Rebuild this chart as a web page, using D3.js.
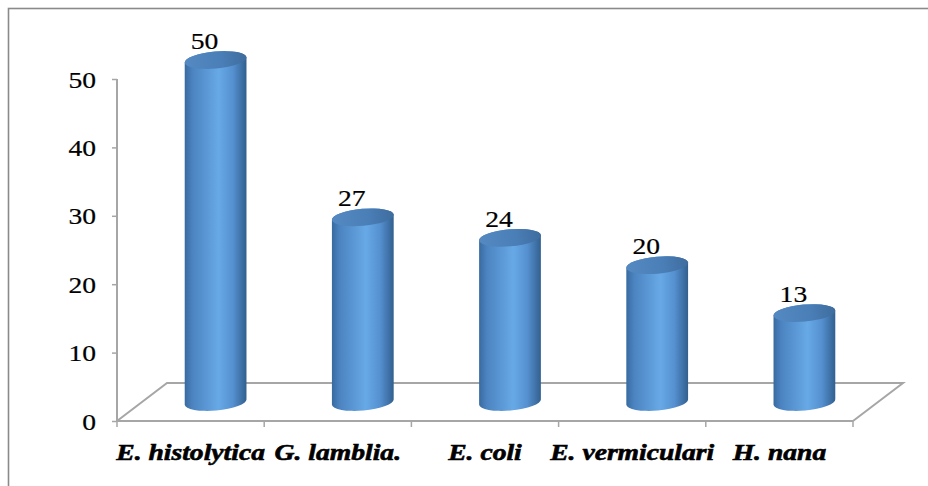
<!DOCTYPE html>
<html>
<head>
<meta charset="utf-8">
<script src="https://cdn.jsdelivr.net/npm/d3@7"></script>
<style>
  html, body { margin: 0; padding: 0; background: #fff; }
  svg { display: block; }
  text { font-family: "Liberation Serif", "Times New Roman", serif; fill: #000; }
</style>
</head>
<body>
<div id="chart"></div>
<script>
// Parasite species and the number of positive cases
const categories = ["E. histolytica", "G. lamblia.", "E. coli", "E. vermiculari", "H. nana"];
const values = [50, 27, 24, 20, 13];
const yTicks = [0, 10, 20, 30, 40, 50];

const W = 928, H = 486;
const svg = d3.select("#chart").append("svg")
  .attr("width", W).attr("height", H);

// Frame around the chart area
svg.append("rect")
  .attr("x", 8.5).attr("y", 8.5)
  .attr("width", W + 20).attr("height", H + 20)
  .attr("fill", "none").attr("stroke", "#8a8a8a").attr("stroke-width", 1.6);

const x = d3.scaleBand().domain(categories).range([117, 853]).padding(0);
const y = d3.scaleLinear().domain([0, 50]).range([421, 79]);

// Perspective offset of the floor depth
const depth = { dx: 50, dy: -38 };
const mid = { dx: depth.dx / 2, dy: depth.dy / 2 };
const xStretch = 1.15;

const defs = svg.append("defs");
const bodyGrad = defs.append("linearGradient").attr("id", "cylBody")
  .attr("x1", "0%").attr("x2", "100%").attr("y1", "0%").attr("y2", "0%");
[["0%", "#386a9f"], ["12%", "#4b83c0"], ["55%", "#67a9e6"], ["78%", "#5590d0"], ["100%", "#32608f"]]
  .forEach(([o, c]) => bodyGrad.append("stop").attr("offset", o).attr("stop-color", c));
const topGrad = defs.append("linearGradient").attr("id", "cylTop")
  .attr("x1", "0%").attr("x2", "100%").attr("y1", "0%").attr("y2", "0%");
[["0%", "#5489c2"], ["60%", "#4a7eb6"], ["100%", "#3e6c9e"]]
  .forEach(([o, c]) => topGrad.append("stop").attr("offset", o).attr("stop-color", c));

// Floor of the 3D plot
const fx0 = x.range()[0], fx1 = x.range()[1], fy = y(0);
const floor = svg.append("g").attr("fill", "none").attr("stroke", "#a6a6a6").attr("stroke-width", 2);
floor.append("path").attr("d",
  `M${fx0},${fy} L${fx0 + depth.dx},${fy + depth.dy} L${fx1 + depth.dx},${fy + depth.dy} L${fx1},${fy}`);

// Y axis
const yAxis = svg.append("g").attr("transform", `translate(${fx0},0)`)
  .call(d3.axisLeft(y).tickValues(yTicks).tickSize(5).tickPadding(0));
yAxis.select(".domain").attr("stroke", "#a6a6a6").attr("stroke-width", 2)
  .attr("d", `M0,${y(50)}V${y(0)}`);
yAxis.selectAll(".tick line").attr("stroke", "#a6a6a6").attr("stroke-width", 1.5);
yAxis.selectAll(".tick text").remove();
yAxis.selectAll(".tick").append("text")
  .attr("text-anchor", "end")
  .attr("transform", `translate(-21,8) scale(${xStretch},1)`)
  .style("font-size", "24px")
  .attr("stroke", "#000").attr("stroke-width", 0.2)
  .text(d => d);

// X axis: front edge with ticks at category boundaries
const bounds = categories.map(c => x(c)).concat([fx1]);
const xAxis = svg.append("g");
xAxis.append("line").attr("x1", fx0).attr("x2", fx1).attr("y1", fy).attr("y2", fy)
  .attr("stroke", "#a6a6a6").attr("stroke-width", 2);
xAxis.selectAll("line.tk").data(bounds).join("line").attr("class", "tk")
  .attr("x1", d => d).attr("x2", d => d).attr("y1", fy).attr("y2", fy + 6)
  .attr("stroke", "#a6a6a6").attr("stroke-width", 1.5);
xAxis.selectAll("text").data(categories).join("text")
  .attr("text-anchor", "middle")
  .attr("transform", d => `translate(${x(d) + x.bandwidth() / 2},460) scale(${xStretch},1)`)
  .style("font-size", "24px").style("font-weight", "bold").style("font-style", "italic")
  .attr("stroke", "#000").attr("stroke-width", 0.6)
  .text(d => d);

// Cylinders
const rx = 31, ry = 8.5, tilt = -5;
const sinT = Math.sin(tilt * Math.PI / 180), cosT = Math.cos(tilt * Math.PI / 180);
const data = categories.map((c, i) => ({ c, v: values[i] }));
const bars = svg.append("g").selectAll("g").data(data).join("g");
bars.each(function (d) {
  const g = d3.select(this);
  const cx = x(d.c) + x.bandwidth() / 2 + mid.dx;
  const yb = y(0) + mid.dy;
  const yt = y(d.v) + mid.dy;
  const ex = rx * cosT, ey = rx * sinT;
  g.append("path")
    .attr("d", `M${cx - ex},${yt - ey} L${cx - ex},${yb - ey} ` +
      `A${rx},${ry} ${tilt} 0 0 ${cx + ex},${yb + ey} L${cx + ex},${yt + ey} ` +
      `A${rx},${ry} ${tilt} 0 0 ${cx - ex},${yt - ey} Z`)
    .attr("fill", "url(#cylBody)");
  g.append("ellipse")
    .attr("cx", cx).attr("cy", yt).attr("rx", rx).attr("ry", ry)
    .attr("transform", `rotate(${tilt},${cx},${yt})`)
    .attr("fill", "url(#cylTop)");
  g.append("text")
    .attr("text-anchor", "middle")
    .attr("transform", `translate(${cx - 11},${yt - 11}) scale(${xStretch},1)`)
    .style("font-size", "24px")
    .attr("stroke", "#000").attr("stroke-width", 0.2)
    .text(d.v);
});
</script>
</body>
</html>
